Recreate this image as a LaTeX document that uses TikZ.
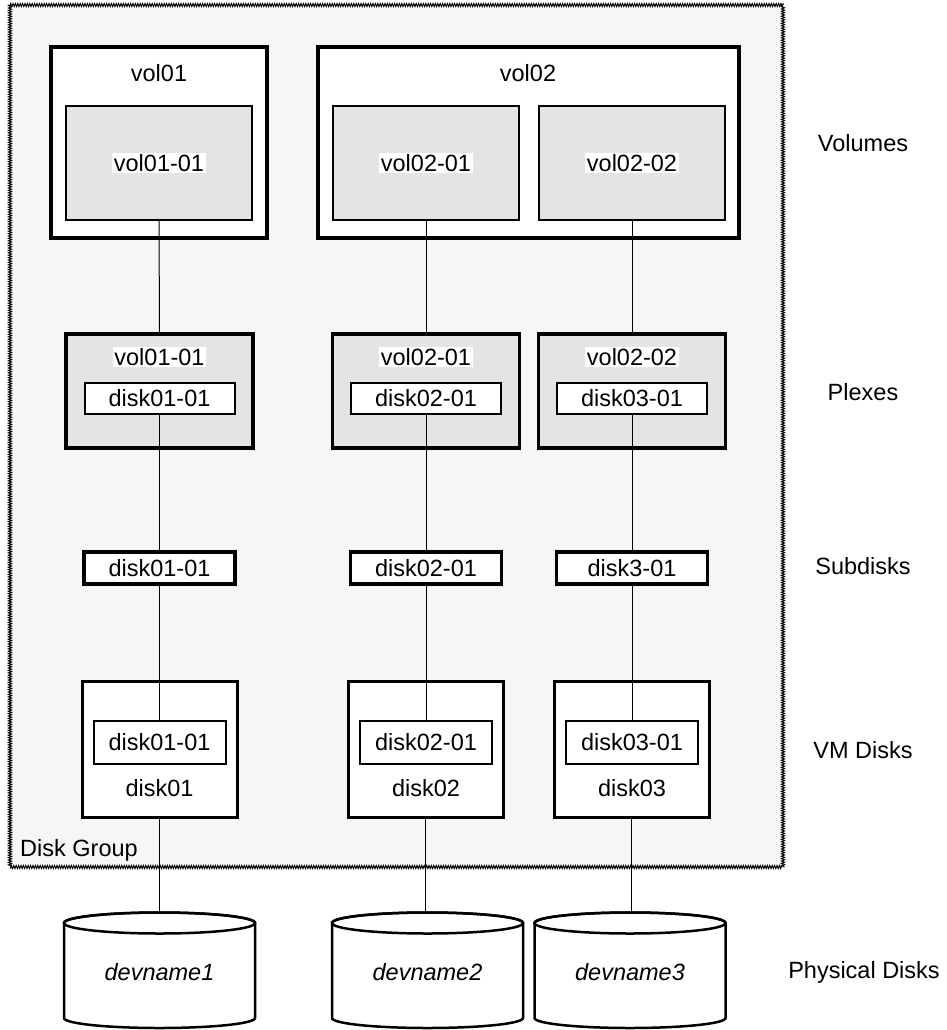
\documentclass[tikz,border=0pt]{standalone}
\usepackage{fontspec}
\setmainfont{Liberation Sans}
\usetikzlibrary{decorations.pathmorphing,calc}
\definecolor{grpbg}{HTML}{F6F6F6}
\definecolor{plexfill}{HTML}{E4E4E4}
\begin{document}
\begin{tikzpicture}[x=1pt,y=-1pt,
  font=\fontsize{23.5}{28}\selectfont,
  volbox/.style={draw, line width=4pt, fill=white, inner sep=0pt},
  plexin/.style={draw, line width=2pt, fill=plexfill, inner sep=0pt},
  plexbox/.style={draw, line width=3.5pt, fill=plexfill, inner sep=0pt, minimum width=187pt, minimum height=114pt},
  sdin/.style={draw, line width=2pt, fill=white, inner sep=0pt, minimum width=150pt, minimum height=31pt},
  sdbox/.style={draw, line width=3.5pt, fill=white, inner sep=0pt, minimum width=151pt, minimum height=32pt},
  vmbox/.style={draw, line width=3pt, fill=white, inner sep=0pt, minimum width=155pt, minimum height=136pt},
  vmin/.style={draw, line width=2pt, fill=white, inner sep=0pt, minimum width=132pt, minimum height=43pt},
  hl/.style={fill=white, inner xsep=1.5pt, inner ysep=1.5pt},
  txt/.style={inner sep=0pt},
  conn/.style={line width=1pt},
  cyl/.style={line width=2.5pt},
  grpborder/.style={decorate, decoration={zigzag, segment length=2.4pt, amplitude=1.5pt}, line width=1pt}
]
\useasboundingbox (0,0) rectangle (947,1030);

% Disk group
\fill[grpbg] (10,5) rectangle (783,867);
\draw[grpborder] (10,5) -- (783,5) -- (783,867) -- (10,867) -- cycle;
\node[txt, anchor=base west] (dglabel) at (20,856) {Disk Group};

% Volumes
\node[volbox, minimum width=216pt, minimum height=191pt] (vol01) at (159,142.5) {};
\node[txt] (vol01lbl) at (159,73) {vol01};
\node[plexin, minimum width=186pt, minimum height=114pt] (v0101) at (159,163) {};
\node[hl] at (v0101) {vol01-01};

\node[volbox, minimum width=421pt, minimum height=191pt] (vol02) at (528.5,142.5) {};
\node[txt] (vol02lbl) at (528,73) {vol02};
\node[plexin, minimum width=186pt, minimum height=114pt] (v0201) at (426,163) {};
\node[hl] at (v0201) {vol02-01};
\node[plexin, minimum width=186pt, minimum height=114pt] (v0202) at (632,163) {};
\node[hl] at (v0202) {vol02-02};

% Plexes
\node[plexbox] (p1) at (159.5,391) {};
\node[hl] (p1lbl) at (159.5,357) {vol01-01};
\node[sdin] (p1in) at (159.5,398.5) {disk01-01};

\node[plexbox] (p2) at (426,391) {};
\node[hl] (p2lbl) at (426,357) {vol02-01};
\node[sdin] (p2in) at (426,398.5) {disk02-01};

\node[plexbox] (p3) at (632,391) {};
\node[hl] (p3lbl) at (632,357) {vol02-02};
\node[sdin] (p3in) at (632,398.5) {disk03-01};

% Subdisks
\node[sdbox] (s1) at (159.5,568) {disk01-01};
\node[sdbox] (s2) at (426,568) {disk02-01};
\node[sdbox] (s3) at (632,568) {disk3-01};

% VM disks
\node[vmbox] (vm1) at (159.5,749) {};
\node[vmin] (vm1in) at (159.5,742.5) {disk01-01};
\node[txt] (vm1lbl) at (159.5,788) {disk01};

\node[vmbox] (vm2) at (425.5,749) {};
\node[vmin] (vm2in) at (426,742.5) {disk02-01};
\node[txt] (vm2lbl) at (426,788) {disk02};

\node[vmbox] (vm3) at (631.5,749) {};
\node[vmin] (vm3in) at (632,742.5) {disk03-01};
\node[txt] (vm3lbl) at (632,788) {disk03};

% Physical disks (cylinders)
\foreach \i/\cx/\nm in {1/159.5/devname1, 2/427.5/devname2, 3/630/devname3}{
  \draw[cyl, fill=white] (\cx-95.5,923) -- (\cx-95.5,1018)
     arc[start angle=180, end angle=360, x radius=95.5pt, y radius=10pt]
     -- (\cx+95.5,923)
     arc[start angle=0, end angle=180, x radius=95.5pt, y radius=10.5pt] -- cycle;
  \draw[cyl] (\cx,923) ellipse[x radius=95.5pt, y radius=10.5pt];
  \coordinate (cyl\i) at (\cx,912.5);
  \node[txt, font=\fontsize{23.5}{28}\selectfont\itshape] (cyl\i lbl) at (\cx,972) {\nm};
}

% Connectors
\draw[conn] (v0101.south) -- (p1.north);
\draw[conn] (v0201.south) -- (p2.north);
\draw[conn] (v0202.south) -- (p3.north);
\draw[conn] (p1in.south) -- (s1.north);
\draw[conn] (p2in.south) -- (s2.north);
\draw[conn] (p3in.south) -- (s3.north);
\draw[conn] (s1.south) -- (vm1in.north);
\draw[conn] (s2.south) -- (vm2in.north);
\draw[conn] (s3.south) -- (vm3in.north);
\draw[conn] (vm1.south) -- (cyl1);
\draw[conn] (vm2.south) -- (vm2.south |- cyl2);
\draw[conn] (vm3.south) -- (vm3.south |- cyl3);

% Layer labels
\node[txt] (lvol) at (863,143) {Volumes};
\node[txt] (lplex) at (863,392) {Plexes};
\node[txt] (lsd) at (863,566) {Subdisks};
\node[txt] (lvm) at (863,750) {VM Disks};
\node[txt] (lpd) at (864,972) {Physical Disks};
\end{tikzpicture}
\end{document}
